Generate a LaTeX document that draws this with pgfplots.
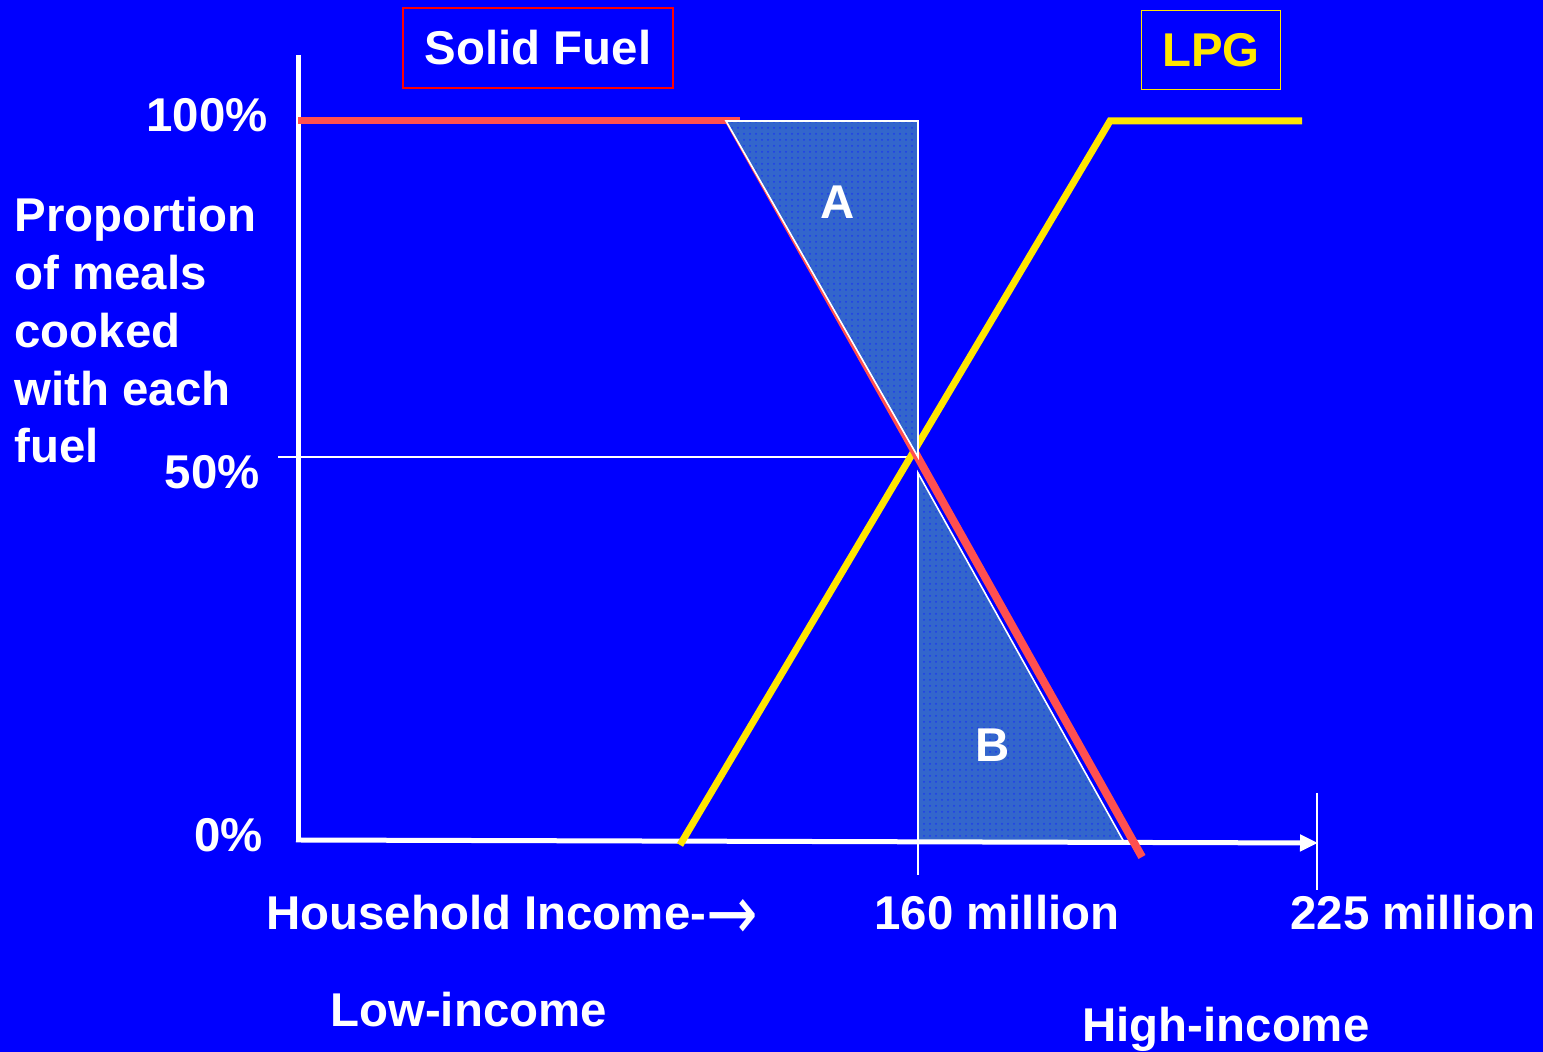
\documentclass[border=0pt]{standalone}
\usepackage{pgfplots}
\pgfplotsset{compat=1.18}
\usepackage{fontspec}
\setmainfont{Liberation Sans}
\newfontfamily\arrowfont{DejaVu Sans}
\usetikzlibrary{patterns,arrows.meta}
\definecolor{bg}{RGB}{0,0,255}
\definecolor{solidc}{RGB}{255,80,80}
\definecolor{lpgc}{RGB}{255,230,0}
\definecolor{tric}{RGB}{51,102,204}
\definecolor{dotc}{RGB}{30,60,235}
\tikzset{lab/.style={font=\fontsize{23.7}{29}\selectfont\bfseries,text=white,inner sep=0pt}}
\begin{document}
\begin{tikzpicture}
\begin{axis}[x=0.5pt,y=0.5pt,xmin=0,xmax=1543,ymin=0,ymax=1052,
  hide axis,clip=false,scale only axis]
% background
\fill[bg] (0,0) rectangle (1543,1052);
% guide lines
\draw[white,line width=0.8pt] (278,595) -- (918,595);
\draw[white,line width=0.8pt] (918,579) -- (918,177);
\draw[white,line width=0.8pt] (1317,259) -- (1317,162);
% triangle B (under red line)
\addplot[fill=tric,draw=none] coordinates {(918,579) (918,210) (1124,210)} -- cycle;
\addplot[pattern=dots,pattern color=dotc,draw=white,line width=0.8pt] coordinates {(918,579) (918,210) (1124,210)} -- cycle;
% axes
\draw[white,line width=2.5pt] (298,997) -- (298,212);
\draw[white,line width=2.5pt,-{Triangle[length=9pt,width=8pt]}] (296,212) -- (1318,209);
% LPG line
\addplot[lpgc,line width=3.5pt] coordinates {(680,207) (1110,931) (1302,931)};
% Solid fuel line
\addplot[solidc,line width=3.5pt] coordinates {(298,931) (740,931)};
\addplot[solidc,line width=4pt] coordinates {(728,933) (1142,195)};
% triangle A (over red line)
\addplot[fill=tric,draw=none] coordinates {(726,931) (918,931) (918,595)} -- cycle;
\addplot[pattern=dots,pattern color=dotc,draw=white,line width=0.8pt] coordinates {(726,931) (918,931) (918,595)} -- cycle;
% labels
\node[lab] at (838,850) {A};
\node[lab] at (993,307) {B};
\node[lab,draw=red,line width=0.8pt,minimum width=135pt,minimum height=40pt] at (538,1004) {Solid Fuel};
\node[lab,draw=lpgc,text=lpgc,line width=0.8pt,minimum width=69.5pt,minimum height=39.5pt] at (1211,1002) {LPG};
\node[lab,anchor=base east] at (268,920) {100\%};
\node[lab,anchor=base east] at (260,563) {50\%};
\node[lab,anchor=base east] at (263,200) {0\%};
\node[lab,anchor=base west] at (14,820) {Proportion};
\node[lab,anchor=base west] at (14,762) {of meals};
\node[lab,anchor=base west] at (14,704) {cooked};
\node[lab,anchor=base west] at (14,646) {with each};
\node[lab,anchor=base west] at (14,589) {fuel};
\node[lab,anchor=base west] at (266,122) {Household Income-\raisebox{-5pt}{\scalebox{1.3}[1.6]{\arrowfont\mdseries →}}};
\node[lab,anchor=base west] at (874,122) {160 million};
\node[lab,anchor=base west] at (1290,122) {225 million};
\node[lab,anchor=base west] at (330,25) {Low-income};
\node[lab,anchor=base west] at (1082,10) {High-income};
\end{axis}
\pgfresetboundingbox
\path[use as bounding box] (0,0) rectangle (771.5pt,526pt);
\end{tikzpicture}
\end{document}
